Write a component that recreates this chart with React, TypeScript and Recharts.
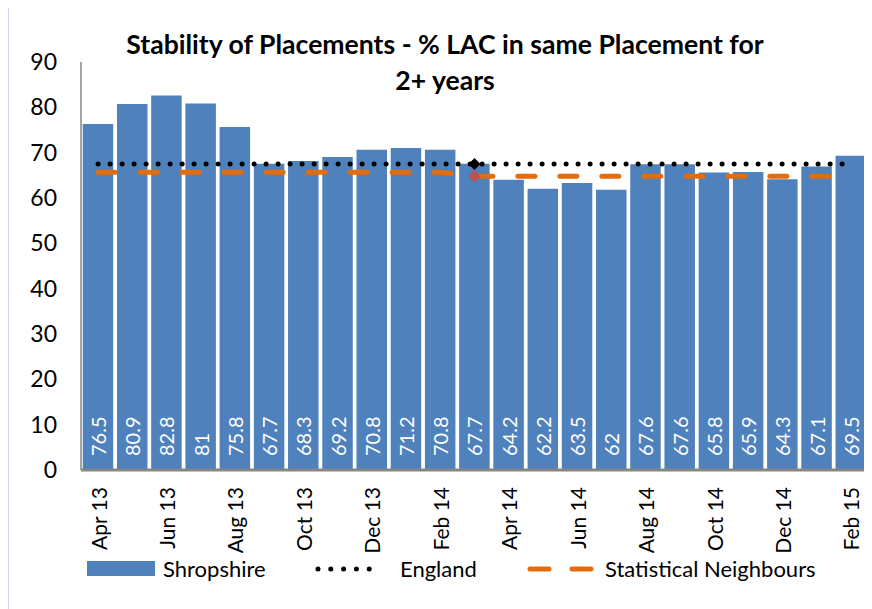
import React from "react";
import { ComposedChart, Bar, Line, XAxis, YAxis, LabelList } from "recharts";

const months = [
  "Apr 13", "May 13", "Jun 13", "Jul 13", "Aug 13", "Sep 13", "Oct 13", "Nov 13",
  "Dec 13", "Jan 14", "Feb 14", "Mar 14", "Apr 14", "May 14", "Jun 14", "Jul 14",
  "Aug 14", "Sep 14", "Oct 14", "Nov 14", "Dec 14", "Jan 15", "Feb 15",
];
const shropshire = [
  76.5, 80.9, 82.8, 81, 75.8, 67.7, 68.3, 69.2, 70.8, 71.2, 70.8, 67.7,
  64.2, 62.2, 63.5, 62, 67.6, 67.6, 65.8, 65.9, 64.3, 67.1, 69.5,
];
const england = [
  67.5, 67.5, 67.5, 67.5, 67.5, 67.5, 67.5, 67.5, 67.5, 67.5, 67.5, 67.5,
  67.5, 67.5, 67.5, 67.5, 67.5, 67.5, 67.5, 67.5, 67.5, 67.5, 67.5,
];
const statNeighbours = [
  65.7, 65.7, 65.7, 65.7, 65.7, 65.7, 65.7, 65.7, 65.7, 65.7, 65.7, 64.8,
  64.8, 64.8, 64.8, 64.8, 64.8, 64.8, 64.8, 64.8, 64.8, 64.8, 64.8,
];
const yTicks = [0, 10, 20, 30, 40, 50, 60, 70, 80, 90];

const data = months.map((m, i) => ({
  month: m,
  shropshire: shropshire[i],
  england: england[i],
  stat: statNeighbours[i],
}));

const FONT = "Lato, 'Open Sans', sans-serif";
const BAR = "#4F81BD";
const ORANGE = "#E46C0A";
const FRAME = "#2F5496";

// only the Mar 14 points carry a marker
const diamond = (fill: string) => (props: any) => {
  const { cx, cy, index } = props;
  if (index !== 11) return <g key={`d-${index}`} />;
  const s = 6;
  return (
    <path
      key={`d-${index}`}
      d={`M${cx},${cy - s} L${cx + s},${cy} L${cx},${cy + s} L${cx - s},${cy} Z`}
      fill={fill}
    />
  );
};

const BarValue = (props: any) => {
  const { x, y, width, height, value } = props;
  const cx = x + width / 2;
  const by = y + height - 14;
  return (
    <text
      x={cx}
      y={by}
      transform={`rotate(-90, ${cx}, ${by})`}
      textAnchor="start"
      dominantBaseline="central"
      fill="#fff"
      fontSize={20}
      fontFamily={FONT}
    >
      {value}
    </text>
  );
};

const MonthTick = (props: any) => {
  const { x, payload } = props;
  const ty = 487;
  return (
    <text
      x={x}
      y={ty}
      transform={`rotate(-90, ${x}, ${ty})`}
      textAnchor="end"
      dominantBaseline="central"
      fill="#000"
      fontSize={21}
      fontFamily={FONT}
    >
      {payload.value}
    </text>
  );
};

export default function App() {
  return (
    <div
      style={{
        position: "relative",
        width: 872,
        height: 609,
        marginTop: -8,
        marginLeft: -8,
        background: "#fff",
        overflow: "hidden",
        fontFamily: FONT,
      }}
    >
      <div
        style={{
          position: "absolute",
          left: 0,
          width: 890,
          top: 26,
          textAlign: "center",
          fontWeight: 700,
          fontSize: 26.6,
          lineHeight: "36px",
          color: "#000",
        }}
      >
        Stability of Placements - % LAC in same Placement for
        <br />
        2+ years
      </div>
      <ComposedChart
        width={872}
        height={609}
        data={data}
        margin={{ top: 62, right: 4, left: 21, bottom: 59 }}
        barCategoryGap={1}
      >
        <XAxis
          dataKey="month"
          interval={1}
          tickLine={false}
          height={80}
          axisLine={{ stroke: "#868686", strokeWidth: 3 }}
          tick={<MonthTick />}
        />
        <YAxis
          domain={[0, 90]}
          ticks={yTicks}
          width={60}
          tickLine={false}
          tickSize={0}
          tickMargin={24}
          axisLine={{ stroke: "#868686", strokeWidth: 1.5 }}
          tick={{ fill: "#000", fontSize: 23, fontFamily: FONT }}
        />
        <Bar
          dataKey="shropshire"
          fill={BAR}
          stroke="#fff"
          strokeWidth={1.5}
          isAnimationActive={false}
        >
          <LabelList dataKey="shropshire" content={<BarValue />} />
        </Bar>
        <Line
          dataKey="england"
          stroke="#000"
          strokeWidth={5}
          strokeDasharray="0 12"
          strokeLinecap="round"
          dot={diamond("#000")}
          activeDot={false}
          isAnimationActive={false}
        />
        <Line
          dataKey="stat"
          stroke={ORANGE}
          strokeWidth={5}
          strokeDasharray="17 25"
          strokeLinecap="round"
          dot={diamond("#C0504D")}
          activeDot={false}
          isAnimationActive={false}
        />
      </ComposedChart>
      <div
        style={{
          position: "absolute",
          top: 560,
          left: 0,
          width: 872,
          height: 24,
          fontSize: 22,
          color: "#000",
        }}
      >
        <div style={{ position: "absolute", left: 87, top: 1, width: 68, height: 15, background: BAR }} />
        <div style={{ position: "absolute", left: 163, top: -5, whiteSpace: "nowrap" }}>Shropshire</div>
        <svg style={{ position: "absolute", left: 312, top: 0 }} width={80} height={20}>
          <line x1={6} x2={70} y1={9} y2={9} stroke="#000" strokeWidth={5} strokeDasharray="0 12.8" strokeLinecap="round" />
        </svg>
        <div style={{ position: "absolute", left: 400, top: -5, whiteSpace: "nowrap" }}>England</div>
        <svg style={{ position: "absolute", left: 522, top: 0 }} width={80} height={20}>
          <line x1={8} x2={27} y1={9} y2={9} stroke={ORANGE} strokeWidth={5} strokeLinecap="round" />
          <line x1={50} x2={69} y1={9} y2={9} stroke={ORANGE} strokeWidth={5} strokeLinecap="round" />
        </svg>
        <div style={{ position: "absolute", left: 605, top: -5, whiteSpace: "nowrap" }}>Statistical Neighbours</div>
      </div>
      {/* chart frame: only the top and left edges fall inside the picture */}
      <svg
        width={872}
        height={609}
        style={{ position: "absolute", left: 0, top: 0, zIndex: 5, pointerEvents: "none" }}
      >
        <path d="M7,609 L7,5 L872,5" fill="none" stroke={FRAME} strokeWidth={2.5} />
      </svg>
    </div>
  );
}
